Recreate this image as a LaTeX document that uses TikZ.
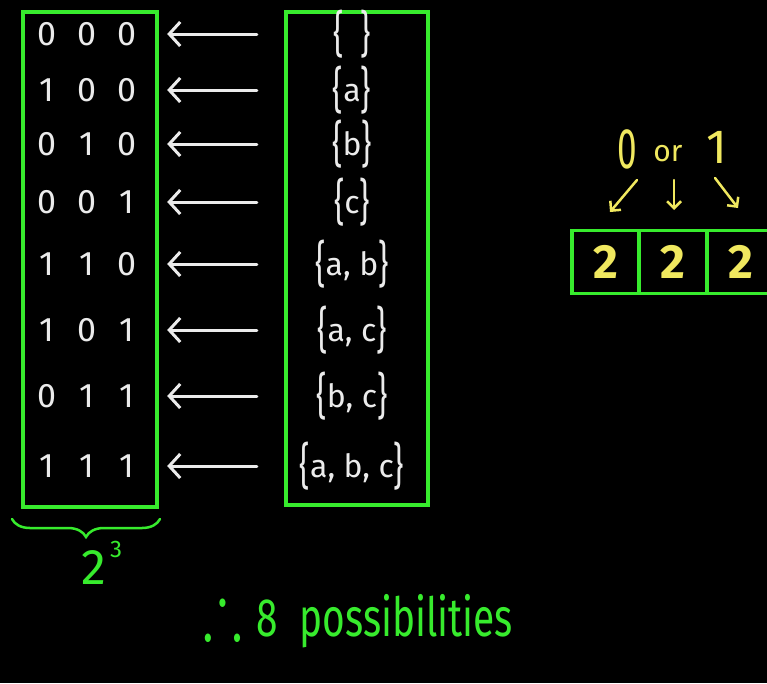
\documentclass[tikz,border=0pt]{standalone}
\usepackage{fontspec}
\setmainfont{Fira Sans}
\usepackage{amssymb}
\usetikzlibrary{arrows.meta,decorations.pathreplacing}
\definecolor{chalkgreen}{RGB}{55,235,45}
\definecolor{chalkyellow}{RGB}{240,232,95}
\definecolor{chalkwhite}{RGB}{235,235,235}
% three bits of one row, one per 40pt slot
\newcommand\bitrow[3]{\makebox[40pt]{#1}\makebox[40pt]{#2}\makebox[40pt]{#3}}
% set braces drawn tall
\newcommand\lbr{\raisebox{-0.18em}{\scalebox{1}[1.55]{\{}}}
\newcommand\rbr{\raisebox{-0.18em}{\scalebox{1}[1.55]{\}}}}
\begin{document}
\begin{tikzpicture}[x=1pt,y=-1pt,
  frame/.style={draw=chalkgreen, line width=4pt, inner sep=0pt},
  bits/.style={text=chalkwhite, font=\fontsize{34}{34}\selectfont, minimum width=160pt, inner sep=0pt},
  setlbl/.style={text=chalkwhite, font=\fontsize{32}{32}\selectfont, minimum width=176pt, inner sep=0pt},
  maparrow/.style={draw=chalkwhite, line width=3pt, line cap=round, shorten <=7pt,
    -{Straight Barb[length=11pt,width=24pt]}},
  cell/.style={draw=chalkgreen, line width=3.5pt, minimum width=67pt, minimum height=63pt,
    inner sep=0pt, text=chalkyellow, font=\fontsize{48}{48}\selectfont\bfseries},
  pick/.style={draw=chalkyellow, line width=2.5pt, line cap=round,
    -{Straight Barb[length=7pt,width=14pt]}},
  note/.style={text=chalkgreen, inner sep=0pt}]
\fill[black] (0,0) rectangle (767,683);
\useasboundingbox (0,0) rectangle (767,683);

% the two columns
\node[frame, minimum width=134pt, minimum height=495pt] (bitbox) at (90,259.5) {};
\node[frame, minimum width=142pt, minimum height=493pt] (setbox) at (357,258.5) {};

% bit strings and the subsets they encode
\foreach \i/\y/\a/\b/\c/\s in {
  1/34/0/0/0/{\lbr\hspace{16pt}\rbr},
  2/90/1/0/0/{\lbr a\rbr},
  3/144/0/1/0/{\lbr b\rbr},
  4/202/0/0/1/{\lbr c\rbr},
  5/264/1/1/0/{\lbr a, b\rbr},
  6/330/1/0/1/{\lbr a, c\rbr},
  7/396/0/1/1/{\lbr b, c\rbr},
  8/466/1/1/1/{\lbr a, b, c\rbr}}{
  \node[bits] (r\i) at (87,\y) {\bitrow{\a}{\b}{\c}};
  \node[setlbl] (s\i) at (352,\y) {\s};
  \draw[maparrow] (s\i.west) -- (r\i.east);
}

% count of the bit strings
\draw[chalkgreen, line width=2.5pt, line cap=round,
  decorate, decoration={brace, mirror, amplitude=18pt}] (12,519) -- (160,519);
\node[note, font=\fontsize{50}{50}\selectfont] (two) at (94,568) {2};
\node[note, font=\fontsize{24}{24}\selectfont] (three) at (116,549) {3};
\node[note, anchor=base west, font=\fontsize{54}{54}\selectfont] (concl) at (203,636)
  {\scalebox{0.72}[1]{\scalebox{1.5}{$\therefore$}\hspace{20pt}8\hspace{30pt}possibilities}};

% each of the three places holds 0 or 1
\node[cell] (c1) at (605.5,262) {2};
\node[cell] (c2) at (673,262) {2};
\node[cell] (c3) at (741,262) {2};
\node[text=chalkyellow, font=\fontsize{44}{44}\selectfont] (zero) at (627,149)
  {\scalebox{0.8}[1.3]{0}};
\node[text=chalkyellow, font=\fontsize{30}{30}\selectfont] (orword) at (668,154) {or};
\node[text=chalkyellow, font=\fontsize{48}{48}\selectfont] (one) at (717,147) {1};
\coordinate (p1) at (637,180);
\coordinate (q1) at (610,212);
\coordinate (p2) at (674,180);
\coordinate (q2) at (674,210);
\coordinate (p3) at (715,178);
\coordinate (q3) at (738,208);
\draw[pick] (p1) -- (q1);
\draw[pick] (p2) -- (q2);
\draw[pick] (p3) -- (q3);
\end{tikzpicture}
\end{document}
